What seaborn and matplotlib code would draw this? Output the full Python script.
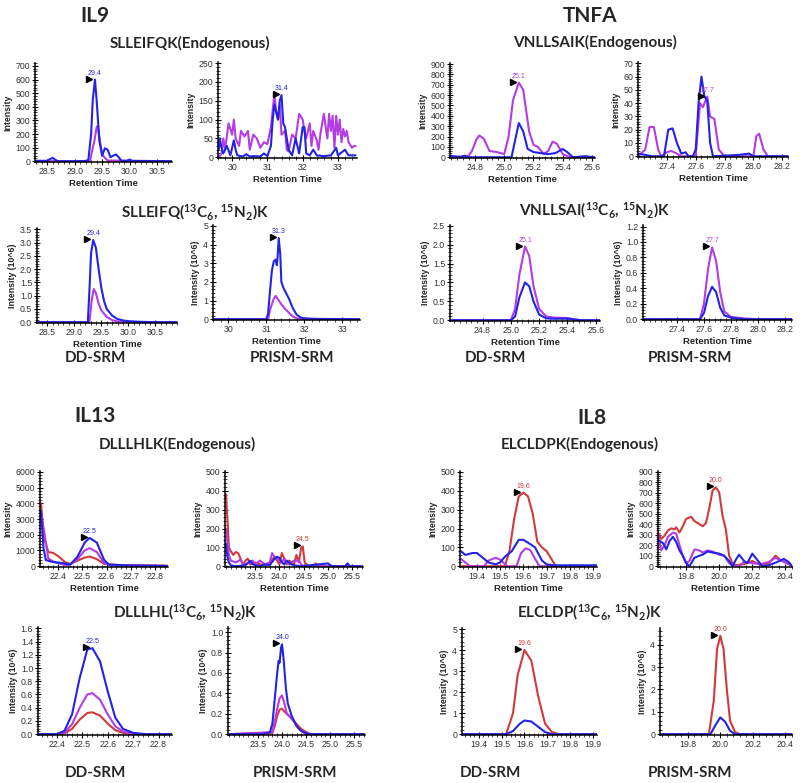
import matplotlib
matplotlib.use("Agg")
import numpy as np
import matplotlib.pyplot as plt
import seaborn as sns
from matplotlib.ticker import AutoMinorLocator, FormatStrFormatter
from matplotlib.transforms import offset_copy

# ---------------- DATA ----------------
# IL9 endogenous, DD-SRM
IL9_E_DD_BLUE_RT = [28.28, 28.5, 28.55, 28.6, 28.65, 28.7, 29.0, 29.2, 29.25, 29.3, 29.33, 29.37, 29.4, 29.45, 29.5, 29.55, 29.6, 29.65, 29.7, 29.75, 29.8, 29.85, 29.95, 30.0, 30.05, 30.77]
IL9_E_DD_BLUE_INT = [3, 3, 15, 25, 10, 0, 0, 2, 10, 200, 450, 600, 450, 150, 40, 95, 85, 30, 40, 50, 30, 3, 3, 12, 2, 0]
IL9_E_DD_MAG_RT = [28.28, 29.28, 29.32, 29.36, 29.4, 29.42, 29.46, 29.5, 29.55, 29.6, 30.77]
IL9_E_DD_MAG_INT = [0, 0, 80, 150, 250, 260, 150, 50, 25, 5, 0]
# IL9 endogenous, PRISM-SRM
IL9_E_PR_BLUE_RT = [29.62, 29.65, 29.7, 29.75, 29.85, 29.95, 30.05, 30.1, 30.15, 30.3, 30.4, 30.5, 30.6, 30.8, 30.9, 31.0, 31.1, 31.15, 31.2, 31.25, 31.3, 31.35, 31.4, 31.45, 31.5, 31.55, 31.6, 31.7, 31.8, 31.9, 32.0, 32.05, 32.1, 32.2, 32.3, 32.4, 32.6, 32.8, 32.95, 33.0, 33.2, 33.3, 33.5]
IL9_E_PR_BLUE_INT = [20, 50, 25, 10, 30, 5, 45, 20, 5, 2, 8, 2, 3, 2, 10, 3, 30, 100, 140, 120, 100, 150, 165, 90, 80, 50, 20, 5, 50, 10, 80, 80, 10, 5, 20, 5, 3, 5, 25, 5, 20, 5, 5]
IL9_E_PR_MAG_RT = [29.62, 29.7, 29.75, 29.8, 29.9, 30.0, 30.05, 30.1, 30.2, 30.25, 30.35, 30.45, 30.5, 30.6, 30.7, 30.8, 30.9, 31.0, 31.1, 31.2, 31.25, 31.3, 31.35, 31.4, 31.5, 31.55, 31.6, 31.7, 31.8, 31.9, 32.0, 32.05, 32.1, 32.2, 32.25, 32.3, 32.4, 32.45, 32.5, 32.6, 32.7, 32.75, 32.8, 32.85, 32.9, 32.95, 33.0, 33.05, 33.1, 33.15, 33.2, 33.25, 33.3, 33.4, 33.45, 33.5]
IL9_E_PR_MAG_INT = [0, 10, 50, 20, 90, 60, 100, 50, 30, 70, 55, 70, 20, 60, 50, 25, 40, 35, 80, 170, 120, 100, 140, 60, 70, 20, 15, 60, 50, 115, 100, 70, 50, 90, 30, 70, 45, 20, 60, 115, 50, 115, 70, 110, 25, 110, 60, 100, 40, 75, 55, 70, 40, 25, 30, 30]
# IL9 heavy, DD-SRM (10^6)
IL9_H_DD_BLUE_RT = [28.31, 29.25, 29.28, 29.31, 29.35, 29.4, 29.45, 29.5, 29.55, 29.6, 29.7, 29.8, 29.9, 30.0, 30.2, 30.5, 30.9]
IL9_H_DD_BLUE_INT = [0, 0, 1.2, 2.6, 3.1, 2.8, 2.0, 1.3, 0.8, 0.5, 0.25, 0.12, 0.07, 0.04, 0.02, 0.0, 0.0]
IL9_H_DD_MAG_RT = [28.31, 29.28, 29.32, 29.36, 29.4, 29.45, 29.5, 29.6, 29.7, 29.8, 30.0, 30.9]
IL9_H_DD_MAG_INT = [0, 0, 0.8, 1.25, 1.1, 0.7, 0.45, 0.2, 0.08, 0.03, 0, 0]
# IL9 heavy, PRISM-SRM (10^6)
IL9_H_PR_BLUE_RT = [29.6, 31.0, 31.05, 31.1, 31.15, 31.2, 31.25, 31.28, 31.3, 31.33, 31.37, 31.4, 31.45, 31.5, 31.6, 31.7, 31.8, 31.9, 32.0, 32.3, 33.47]
IL9_H_PR_BLUE_INT = [0, 0, 0.3, 1.5, 2.6, 3.1, 3.2, 2.9, 3.3, 4.35, 3.5, 2.0, 1.7, 1.5, 1.1, 0.6, 0.25, 0.1, 0.05, 0.02, 0]
IL9_H_PR_MAG_RT = [29.6, 31.05, 31.1, 31.2, 31.25, 31.3, 31.4, 31.5, 31.6, 31.7, 31.8, 31.9, 33.47]
IL9_H_PR_MAG_INT = [0, 0, 0.5, 1.1, 1.25, 1.1, 0.8, 0.55, 0.35, 0.15, 0.05, 0, 0]

# TNFA endogenous, DD-SRM
TNFA_E_DD_MAG_RT = [24.63, 24.75, 24.78, 24.81, 24.83, 24.86, 24.9, 24.95, 25.0, 25.03, 25.06, 25.1, 25.13, 25.17, 25.2, 25.23, 25.27, 25.3, 25.33, 25.36, 25.4, 25.45, 25.62]
TNFA_E_DD_MAG_INT = [0, 0, 60, 170, 210, 180, 60, 50, 30, 200, 550, 720, 650, 250, 120, 100, 30, 60, 150, 130, 30, 0, 0]
TNFA_E_DD_BLUE_RT = [24.63, 24.65, 24.7, 24.73, 24.76, 25.05, 25.08, 25.1, 25.13, 25.16, 25.2, 25.25, 25.3, 25.35, 25.4, 25.43, 25.47, 25.55, 25.62]
TNFA_E_DD_BLUE_INT = [15, 10, 5, 15, 0, 0, 200, 330, 250, 80, 50, 40, 30, 40, 80, 50, 0, 10, 0]
# TNFA endogenous, PRISM-SRM
TNFA_E_PR_MAG_RT = [27.2, 27.25, 27.28, 27.31, 27.34, 27.36, 27.4, 27.43, 27.47, 27.5, 27.6, 27.63, 27.65, 27.68, 27.7, 27.73, 27.76, 27.8, 28.0, 28.02, 28.04, 28.07, 28.1, 28.24]
TNFA_E_PR_MAG_INT = [0, 5, 22, 22, 5, 0, 3, 4, 2, 0, 0, 40, 37, 45, 30, 28, 5, 0, 0, 15, 17, 5, 0, 0]
TNFA_E_PR_BLUE_RT = [27.2, 27.3, 27.38, 27.41, 27.44, 27.47, 27.5, 27.53, 27.55, 27.58, 27.6, 27.62, 27.64, 27.66, 27.68, 27.7, 27.72, 27.9, 27.97, 28.0, 28.24]
TNFA_E_PR_BLUE_INT = [2, 0, 0, 20, 21, 10, 2, 3, 0, 0, 5, 40, 60, 45, 42, 10, 0, 1, 2, 0, 0]
# TNFA heavy, DD-SRM (10^6)
TNFA_H_DD_MAG_RT = [24.57, 25.0, 25.03, 25.06, 25.1, 25.13, 25.16, 25.2, 25.25, 25.3, 25.4, 25.45, 25.5, 25.63]
TNFA_H_DD_MAG_INT = [0, 0, 0.3, 1.2, 1.95, 1.7, 0.9, 0.3, 0.1, 0.07, 0.06, 0.02, 0, 0]
TNFA_H_DD_BLUE_RT = [24.57, 25.0, 25.03, 25.06, 25.1, 25.13, 25.16, 25.2, 25.25, 25.3, 25.4, 25.5, 25.63]
TNFA_H_DD_BLUE_INT = [0, 0, 0.1, 0.6, 1.0, 0.9, 0.5, 0.15, 0.05, 0.04, 0.04, 0, 0]
# TNFA heavy, PRISM-SRM (10^6)
TNFA_H_PR_MAG_RT = [27.15, 27.57, 27.6, 27.63, 27.66, 27.69, 27.72, 27.75, 27.8, 27.9, 28.0, 28.25]
TNFA_H_PR_MAG_INT = [0, 0, 0.2, 0.65, 0.93, 0.75, 0.35, 0.1, 0.03, 0.01, 0, 0]
TNFA_H_PR_BLUE_RT = [27.15, 27.57, 27.6, 27.63, 27.66, 27.69, 27.72, 27.75, 27.8, 27.9, 28.25]
TNFA_H_PR_BLUE_INT = [0, 0, 0.08, 0.3, 0.42, 0.35, 0.15, 0.05, 0.02, 0, 0]

# IL13 endogenous, DD-SRM
IL13_E_DD_RED_RT = [22.33, 22.34, 22.36, 22.38, 22.4, 22.43, 22.45, 22.48, 22.51, 22.53, 22.56, 22.59, 22.65, 22.85]
IL13_E_DD_RED_INT = [4000, 2000, 900, 850, 650, 250, 150, 350, 550, 620, 450, 150, 80, 30]
IL13_E_DD_MAG_RT = [22.33, 22.34, 22.36, 22.38, 22.4, 22.43, 22.45, 22.48, 22.51, 22.53, 22.56, 22.59, 22.62, 22.85]
IL13_E_DD_MAG_INT = [3500, 2500, 500, 300, 200, 80, 100, 450, 1000, 1150, 900, 200, 50, 20]
IL13_E_DD_BLUE_RT = [22.33, 22.34, 22.35, 22.37, 22.39, 22.42, 22.45, 22.48, 22.51, 22.53, 22.56, 22.59, 22.61, 22.7, 22.85]
IL13_E_DD_BLUE_INT = [3500, 1200, 400, 300, 250, 200, 100, 600, 1500, 1800, 1500, 400, 100, 50, 20]
# IL13 endogenous, PRISM-SRM
IL13_E_PR_RED_RT = [22.9, 22.93, 22.96, 23.0, 23.05, 23.1, 23.15, 23.2, 23.25, 23.3, 23.35, 23.4, 23.5, 23.6, 23.7, 23.8, 23.9, 23.95, 24.0, 24.05, 24.1, 24.15, 24.2, 24.25, 24.3, 24.35, 24.4, 24.45, 24.48, 24.52, 24.6, 24.7, 24.75, 24.8, 25.7]
IL13_E_PR_RED_INT = [380, 250, 100, 80, 60, 75, 70, 40, 5, 30, 40, 10, 20, 10, 5, 20, 50, 30, 10, 70, 40, 10, 30, 20, 10, 60, 20, 100, 105, 20, 0, 5, 15, 0, 0]
IL13_E_PR_MAG_RT = [22.9, 22.93, 22.96, 23.0, 23.1, 23.2, 23.25, 23.35, 23.45, 23.5, 23.6, 23.7, 23.8, 23.85, 23.9, 23.95, 24.0, 24.05, 24.1, 24.15, 24.2, 24.3, 24.4, 24.45, 24.5, 25.7]
IL13_E_PR_MAG_INT = [200, 130, 60, 30, 20, 35, 10, 15, 30, 10, 30, 10, 20, 70, 50, 40, 30, 20, 40, 20, 10, 30, 30, 10, 0, 0]
IL13_E_PR_BLUE_RT = [22.9, 22.93, 22.96, 23.0, 23.1, 23.3, 23.4, 23.45, 23.6, 23.7, 23.8, 23.9, 23.95, 24.0, 24.05, 24.1, 24.15, 24.2, 24.25, 24.3, 24.45, 25.0, 25.05, 25.1, 25.35, 25.4, 25.45, 25.7]
IL13_E_PR_BLUE_INT = [120, 50, 20, 5, 0, 5, 30, 10, 0, 10, 5, 40, 50, 45, 20, 10, 30, 20, 10, 5, 0, 15, 5, 0, 0, 15, 0, 0]
# IL13 heavy, DD-SRM (10^6)
IL13_H_DD_RED_RT = [22.33, 22.4, 22.43, 22.46, 22.49, 22.52, 22.54, 22.57, 22.6, 22.63, 22.66, 22.7, 22.85]
IL13_H_DD_RED_INT = [0, 0, 0.01, 0.08, 0.22, 0.32, 0.33, 0.28, 0.16, 0.06, 0.02, 0, 0]
IL13_H_DD_MAG_RT = [22.33, 22.4, 22.43, 22.46, 22.49, 22.52, 22.54, 22.57, 22.6, 22.63, 22.66, 22.7, 22.85]
IL13_H_DD_MAG_INT = [0, 0, 0.02, 0.15, 0.4, 0.6, 0.62, 0.52, 0.3, 0.12, 0.04, 0, 0]
IL13_H_DD_BLUE_RT = [22.33, 22.4, 22.43, 22.46, 22.49, 22.52, 22.54, 22.57, 22.6, 22.63, 22.66, 22.7, 22.75, 22.85]
IL13_H_DD_BLUE_INT = [0, 0, 0.05, 0.3, 0.85, 1.28, 1.3, 1.1, 0.65, 0.25, 0.08, 0.02, 0, 0]
# IL13 heavy, PRISM-SRM (10^6)
IL13_H_PR_RED_RT = [22.9, 23.8, 23.85, 23.9, 23.95, 24.0, 24.05, 24.1, 24.2, 24.3, 24.4, 24.5, 24.6, 25.7]
IL13_H_PR_RED_INT = [0, 0.01, 0.08, 0.18, 0.24, 0.25, 0.22, 0.2, 0.15, 0.1, 0.05, 0.02, 0, 0]
IL13_H_PR_MAG_RT = [22.9, 23.8, 23.85, 23.9, 23.95, 24.0, 24.05, 24.1, 24.15, 24.25, 24.35, 24.5, 25.7]
IL13_H_PR_MAG_INT = [0, 0.02, 0.12, 0.25, 0.35, 0.38, 0.3, 0.2, 0.18, 0.12, 0.05, 0, 0]
IL13_H_PR_BLUE_RT = [22.9, 23.6, 23.75, 23.8, 23.85, 23.9, 23.93, 23.95, 23.98, 24.0, 24.03, 24.08, 24.12, 24.2, 24.3, 24.4, 24.55, 25.7]
IL13_H_PR_BLUE_INT = [0, 0, 0.02, 0.1, 0.35, 0.6, 0.72, 0.7, 0.85, 0.88, 0.75, 0.45, 0.3, 0.18, 0.08, 0.03, 0, 0]

# IL8 endogenous, DD-SRM
IL8_E_DD_RED_RT = [19.33, 19.52, 19.54, 19.56, 19.58, 19.6, 19.62, 19.64, 19.66, 19.68, 19.7, 19.72, 19.74, 19.92]
IL8_E_DD_RED_INT = [0, 0, 80, 250, 370, 390, 370, 280, 130, 100, 80, 40, 0, 0]
IL8_E_DD_MAG_RT = [19.33, 19.35, 19.37, 19.43, 19.45, 19.48, 19.5, 19.53, 19.57, 19.59, 19.61, 19.63, 19.65, 19.67, 19.92]
IL8_E_DD_MAG_INT = [40, 20, 0, 0, 30, 45, 35, 0, 0, 70, 95, 85, 40, 0, 0]
IL8_E_DD_BLUE_RT = [19.33, 19.35, 19.38, 19.4, 19.42, 19.45, 19.48, 19.5, 19.52, 19.55, 19.58, 19.6, 19.62, 19.65, 19.68, 19.7, 19.73, 19.92]
IL8_E_DD_BLUE_INT = [80, 60, 70, 70, 50, 20, 10, 20, 50, 80, 140, 140, 125, 100, 30, 10, 5, 5]
# IL8 endogenous, PRISM-SRM
IL8_E_PR_RED_RT = [19.63, 19.65, 19.67, 19.69, 19.71, 19.73, 19.74, 19.76, 19.78, 19.8, 19.83, 19.85, 19.88, 19.9, 19.92, 19.94, 19.96, 19.98, 20.0, 20.02, 20.04, 20.06, 20.08, 20.1, 20.15, 20.2, 20.25, 20.3, 20.34, 20.37, 20.42, 20.44]
IL8_E_PR_RED_INT = [320, 260, 290, 340, 360, 350, 370, 320, 380, 450, 470, 430, 400, 380, 410, 550, 720, 750, 700, 480, 350, 100, 30, 10, 20, 50, 10, 30, 100, 60, 20, 10]
IL8_E_PR_MAG_RT = [19.63, 19.65, 19.67, 19.69, 19.72, 19.74, 19.76, 19.78, 19.8, 19.82, 19.85, 19.88, 19.9, 19.93, 19.96, 20.0, 20.03, 20.06, 20.08, 20.12, 20.15, 20.2, 20.25, 20.3, 20.34, 20.38, 20.42, 20.44]
IL8_E_PR_MAG_INT = [300, 150, 200, 280, 320, 310, 200, 100, 30, 50, 160, 150, 130, 150, 140, 110, 100, 30, 10, 0, 40, 30, 20, 40, 80, 50, 20, 10]
IL8_E_PR_BLUE_RT = [19.63, 19.66, 19.68, 19.7, 19.72, 19.74, 19.76, 19.78, 19.8, 19.82, 19.85, 19.88, 19.9, 19.93, 19.96, 20.0, 20.03, 20.06, 20.08, 20.1, 20.12, 20.15, 20.17, 20.2, 20.23, 20.26, 20.3, 20.35, 20.39, 20.42, 20.44]
IL8_E_PR_BLUE_INT = [250, 220, 160, 240, 280, 230, 150, 100, 30, 0, 80, 100, 110, 140, 130, 120, 100, 50, 0, 60, 110, 50, 30, 120, 60, 0, 10, 40, 70, 40, 0]
# IL8 heavy, DD-SRM (10^6)
IL8_H_DD_RED_RT = [19.33, 19.52, 19.55, 19.57, 19.6, 19.63, 19.66, 19.69, 19.72, 19.75, 19.92]
IL8_H_DD_RED_INT = [0, 0, 1.0, 2.8, 4.0, 3.5, 1.8, 0.5, 0.1, 0, 0]
IL8_H_DD_BLUE_RT = [19.33, 19.52, 19.55, 19.58, 19.6, 19.63, 19.66, 19.69, 19.72, 19.92]
IL8_H_DD_BLUE_INT = [0, 0, 0.15, 0.5, 0.65, 0.6, 0.35, 0.1, 0, 0]
# IL8 heavy, PRISM-SRM (10^6)
IL8_H_PR_RED_RT = [19.63, 19.93, 19.96, 19.98, 20.0, 20.02, 20.04, 20.06, 20.09, 20.12, 20.44]
IL8_H_PR_RED_INT = [0, 0, 1.5, 3.8, 4.4, 3.8, 2.0, 0.6, 0.1, 0, 0]
IL8_H_PR_BLUE_RT = [19.63, 19.94, 19.97, 20.0, 20.03, 20.06, 20.09, 20.44]
IL8_H_PR_BLUE_INT = [0, 0, 0.4, 0.75, 0.55, 0.15, 0, 0]

# ---------------- STYLE ----------------
BLUE = "#2323e6"
MAG = "#b43ce6"
RED = "#d23a3a"
W, H = 800, 783

sns.set_theme(style="white")
plt.rcParams["font.family"] = ["Lato", "DejaVu Sans"]
plt.rcParams["mathtext.fontset"] = "custom"
plt.rcParams["mathtext.rm"] = "Lato:bold"
plt.rcParams["mathtext.it"] = "Lato:bold"
plt.rcParams["mathtext.bf"] = "Lato:bold"

TICKFONT = "Liberation Sans"

panels = [
    # IL9
    dict(box=(35, 63, 172, 162), xlim=(28.28, 30.77), xt=(28.5, 30.5, 0.5), ytop=722, ystep=100,
         ylab="Intensity", xlab=True, series=[(MAG, IL9_E_DD_MAG_RT, IL9_E_DD_MAG_INT), (BLUE, IL9_E_DD_BLUE_RT, IL9_E_DD_BLUE_INT)],
         peak=(BLUE, "29.4")),
    dict(box=(218, 62, 357, 158), xlim=(29.6, 33.54), xt=(30, 33, 1), ytop=253, ystep=50,
         ylab="Intensity", xlab=True, series=[(MAG, IL9_E_PR_MAG_RT, IL9_E_PR_MAG_INT), (BLUE, IL9_E_PR_BLUE_RT, IL9_E_PR_BLUE_INT)],
         peak=(BLUE, "31.4")),
    dict(box=(37, 228, 177, 323), xlim=(28.31, 30.9), xt=(28.5, 30.5, 0.5), ytop=3.55, ystep=0.5,
         ylab="Intensity (10^6)", xlab=True, series=[(MAG, IL9_H_DD_MAG_RT, IL9_H_DD_MAG_INT), (BLUE, IL9_H_DD_BLUE_RT, IL9_H_DD_BLUE_INT)],
         peak=(BLUE, "29.4")),
    dict(box=(213, 225, 360, 320), xlim=(29.6, 33.47), xt=(30, 33, 1), ytop=5.05, ystep=1,
         ylab="Intensity (10^6)", xlab=True, series=[(MAG, IL9_H_PR_MAG_RT, IL9_H_PR_MAG_INT), (BLUE, IL9_H_PR_BLUE_RT, IL9_H_PR_BLUE_INT)],
         peak=(BLUE, "31.3")),
    # TNFA
    dict(box=(450, 63, 595, 158), xlim=(24.63, 25.62), xt=(24.8, 25.6, 0.2), ytop=910, ystep=100,
         ylab="Intensity", xlab=True, series=[(MAG, TNFA_E_DD_MAG_RT, TNFA_E_DD_MAG_INT), (BLUE, TNFA_E_DD_BLUE_RT, TNFA_E_DD_BLUE_INT)],
         peak=(MAG, "25.1")),
    dict(box=(638, 62, 788, 157), xlim=(27.2, 28.24), xt=(27.4, 28.2, 0.2), ytop=71, ystep=10,
         ylab="Intensity", xlab=True, series=[(MAG, TNFA_E_PR_MAG_RT, TNFA_E_PR_MAG_INT), (BLUE, TNFA_E_PR_BLUE_RT, TNFA_E_PR_BLUE_INT)],
         peak=(MAG, "27.7")),
    dict(box=(450, 225, 600, 321), xlim=(24.57, 25.63), xt=(24.8, 25.6, 0.2), ytop=2.52, ystep=0.5,
         ylab="Intensity (10^6)", xlab=True, series=[(MAG, TNFA_H_DD_MAG_RT, TNFA_H_DD_MAG_INT), (BLUE, TNFA_H_DD_BLUE_RT, TNFA_H_DD_BLUE_INT)],
         peak=(MAG, "25.1")),
    dict(box=(643, 225, 792, 320), xlim=(27.15, 28.25), xt=(27.4, 28.2, 0.2), ytop=1.22, ystep=0.2,
         ylab="Intensity (10^6)", xlab=True, series=[(MAG, TNFA_H_PR_MAG_RT, TNFA_H_PR_MAG_INT), (BLUE, TNFA_H_PR_BLUE_RT, TNFA_H_PR_BLUE_INT)],
         peak=(MAG, "27.7")),
    # IL13
    dict(box=(40, 471, 168, 567), xlim=(22.326, 22.853), xt=(22.4, 22.8, 0.1), ytop=6050, ystep=1000,
         ylab="Intensity", xlab=True, series=[(RED, IL13_E_DD_RED_RT, IL13_E_DD_RED_INT), (MAG, IL13_E_DD_MAG_RT, IL13_E_DD_MAG_INT), (BLUE, IL13_E_DD_BLUE_RT, IL13_E_DD_BLUE_INT)],
         peak=(BLUE, "22.5")),
    dict(box=(225, 471, 363, 567), xlim=(22.88, 25.72), xt=(23.5, 25.5, 0.5), ytop=505, ystep=100,
         ylab="Intensity", xlab=True, series=[(RED, IL13_E_PR_RED_RT, IL13_E_PR_RED_INT), (MAG, IL13_E_PR_MAG_RT, IL13_E_PR_MAG_INT), (BLUE, IL13_E_PR_BLUE_RT, IL13_E_PR_BLUE_INT)],
         peak=(RED, "24.5")),
    dict(box=(38, 627, 172, 735), xlim=(22.326, 22.853), xt=(22.4, 22.8, 0.1), ytop=1.62, ystep=0.2,
         ylab="Intensity (10^6)", xlab=False, series=[(RED, IL13_H_DD_RED_RT, IL13_H_DD_RED_INT), (MAG, IL13_H_DD_MAG_RT, IL13_H_DD_MAG_INT), (BLUE, IL13_H_DD_BLUE_RT, IL13_H_DD_BLUE_INT)],
         peak=(BLUE, "22.5")),
    dict(box=(228, 627, 365, 735), xlim=(22.88, 25.72), xt=(23.5, 25.5, 0.5), ytop=1.05, ystep=0.2,
         ylab="Intensity (10^6)", xlab=False, series=[(RED, IL13_H_PR_RED_RT, IL13_H_PR_RED_INT), (MAG, IL13_H_PR_MAG_RT, IL13_H_PR_MAG_INT), (BLUE, IL13_H_PR_BLUE_RT, IL13_H_PR_BLUE_INT)],
         peak=(BLUE, "24.0")),
    # IL8
    dict(box=(460, 471, 597, 567), xlim=(19.327, 19.917), xt=(19.4, 19.9, 0.1), ytop=505, ystep=100,
         ylab="Intensity", xlab=True, series=[(RED, IL8_E_DD_RED_RT, IL8_E_DD_RED_INT), (MAG, IL8_E_DD_MAG_RT, IL8_E_DD_MAG_INT), (BLUE, IL8_E_DD_BLUE_RT, IL8_E_DD_BLUE_INT)],
         peak=(RED, "19.6")),
    dict(box=(658, 471, 792, 567), xlim=(19.63, 20.44), xt=(19.8, 20.4, 0.2), ytop=905, ystep=100,
         ylab="Intensity", xlab=True, series=[(RED, IL8_E_PR_RED_RT, IL8_E_PR_RED_INT), (MAG, IL8_E_PR_MAG_RT, IL8_E_PR_MAG_INT), (BLUE, IL8_E_PR_BLUE_RT, IL8_E_PR_BLUE_INT)],
         peak=(RED, "20.0")),
    dict(box=(462, 628, 597, 735), xlim=(19.327, 19.917), xt=(19.4, 19.9, 0.1), ytop=5.05, ystep=1,
         ylab="Intensity (10^6)", xlab=False, series=[(RED, IL8_H_DD_RED_RT, IL8_H_DD_RED_INT), (BLUE, IL8_H_DD_BLUE_RT, IL8_H_DD_BLUE_INT)],
         peak=(RED, "19.6")),
    dict(box=(660, 628, 792, 735), xlim=(19.63, 20.44), xt=(19.8, 20.4, 0.2), ytop=4.75, ystep=1,
         ylab="Intensity (10^6)", xlab=False, series=[(RED, IL8_H_PR_RED_RT, IL8_H_PR_RED_INT), (BLUE, IL8_H_PR_BLUE_RT, IL8_H_PR_BLUE_INT)],
         peak=(RED, "20.0")),
]

fig = plt.figure(figsize=(W / 100, H / 100), dpi=100)

for p in panels:
    x0, y0, x1, y1 = p["box"]
    ax = fig.add_axes([x0 / W, 1 - y1 / H, (x1 - x0) / W, (y1 - y0) / H])
    for color, xs, ys in p["series"]:
        sns.lineplot(x=xs, y=ys, ax=ax, color=color, linewidth=1.5, estimator=None, sort=False)
    ax.set_xlim(*p["xlim"])
    ax.set_ylim(-0.008 * p["ytop"], p["ytop"])
    a, b, s = p["xt"]
    ax.set_xticks(np.arange(a, b + s / 2, s))
    ax.set_yticks(np.arange(0, p["ytop"] + 1e-9, p["ystep"]))
    ax.xaxis.set_major_formatter(FormatStrFormatter("%d" if s >= 1 else "%.1f"))
    ax.yaxis.set_major_formatter(FormatStrFormatter("%d" if p["ystep"] >= 1 else "%.1f"))
    ax.xaxis.set_minor_locator(AutoMinorLocator(5))
    ax.yaxis.set_minor_locator(AutoMinorLocator(5))
    ax.tick_params(which="major", direction="inout", length=4, width=0.8, labelsize=6.3, pad=1.5, colors="black")
    ax.tick_params(which="minor", direction="inout", length=2.2, width=0.6)
    ax.tick_params(axis="both", which="both", bottom=True, left=True, top=False, right=False)
    for lab in ax.get_xticklabels() + ax.get_yticklabels():
        lab.set_family(TICKFONT)
        lab.set_color("#333333")
    for sp in ["top", "right"]:
        ax.spines[sp].set_visible(False)
    for sp in ["left", "bottom"]:
        ax.spines[sp].set_color("black")
        ax.spines[sp].set_linewidth(1.1)
    ax.set_ylabel(p["ylab"], fontsize=6.3, fontweight="bold", family=TICKFONT, labelpad=2)
    if p["xlab"]:
        ax.set_xlabel("Retention Time", fontsize=6.8, fontweight="bold", family=TICKFONT, labelpad=2)
    else:
        ax.set_xlabel("")
    # peak annotation
    pc, ptxt = p["peak"]
    prt = float(ptxt)
    for color, xs, ys in p["series"]:
        if color == pc:
            cand = [(yy, xx) for xx, yy in zip(xs, ys) if abs(xx - prt) <= 0.0501]
            py, px = max(cand)
            tr = offset_copy(ax.transData, fig=fig, x=-6, y=1, units="dots")
            ax.plot([px], [py], marker=">", color="black", markersize=4.5, transform=tr, clip_on=False)
            tt = offset_copy(ax.transData, fig=fig, x=0, y=3, units="dots")
            ax.text(px, py, ptxt, color=pc, fontsize=5, ha="center", va="bottom", transform=tt, family=TICKFONT)
            break


def ftext(x, y, s, size, **kw):
    fig.text(x / W, 1 - y / H, s, ha="center", va="center", fontsize=size, fontweight="bold", **kw)


HEAVY = r"($^{13}$C$_6$, $^{15}$N$_2$)K"
# IL9
ftext(95, 16, "IL9", 15)
ftext(190, 43, "SLLEIFQK(Endogenous)", 11)
ftext(195, 212, "SLLEIFQ" + HEAVY, 11)
ftext(95, 358, "DD-SRM", 11)
ftext(292, 358, "PRISM-SRM", 11)
# TNFA
ftext(590, 16, "TNFA", 15)
ftext(595, 42, "VNLLSAIK(Endogenous)", 11)
ftext(595, 210, "VNLLSAI" + HEAVY, 11)
ftext(495, 358, "DD-SRM", 11)
ftext(690, 358, "PRISM-SRM", 11)
# IL13
ftext(95, 416, "IL13", 15)
ftext(177, 444, "DLLLHLK(Endogenous)", 11)
ftext(185, 612, "DLLLHL" + HEAVY, 11)
ftext(95, 773, "DD-SRM", 11)
ftext(295, 773, "PRISM-SRM", 11)
# IL8
ftext(592, 418, "IL8", 15)
ftext(580, 444, "ELCLDPK(Endogenous)", 11)
ftext(590, 612, "ELCLDP" + HEAVY, 11)
ftext(490, 773, "DD-SRM", 11)
ftext(690, 773, "PRISM-SRM", 11)

fig.savefig("out.png", dpi=100)
